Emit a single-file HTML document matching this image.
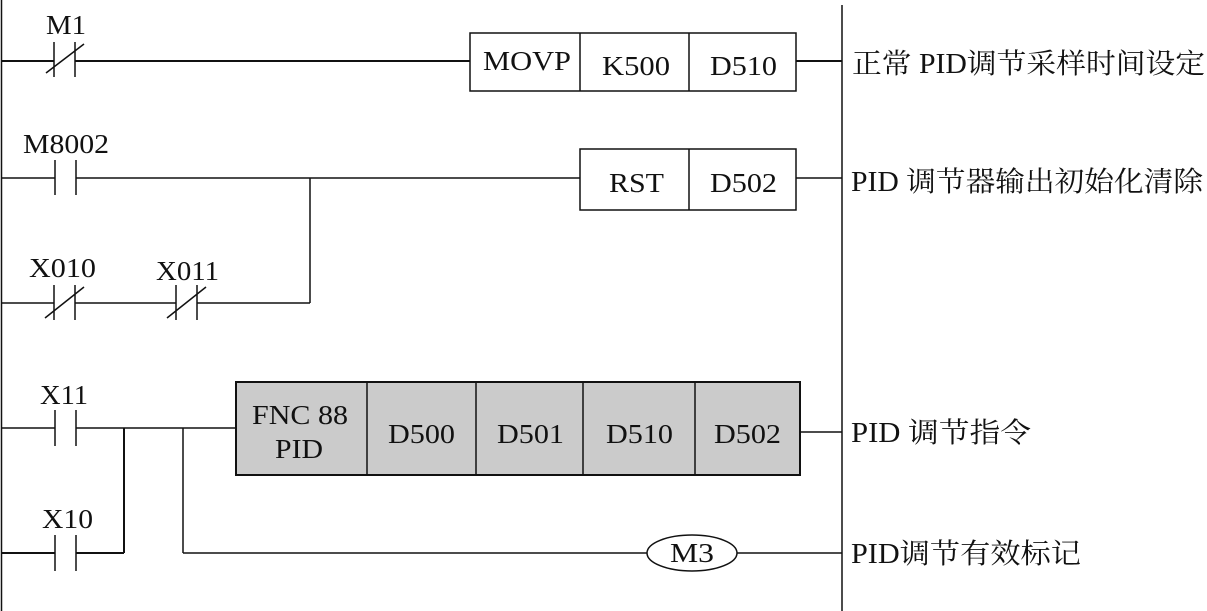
<!DOCTYPE html>
<html><head><meta charset="utf-8"><style>
html,body{margin:0;padding:0;background:#fff;}
svg{display:block;}
text{font-family:"Liberation Serif","Noto Serif CJK SC",serif;fill:#111;}
.cn{font-family:"Liberation Serif","Noto Serif CJK SC","Noto Sans CJK SC",serif;}
</style></head><body>
<svg width="1207" height="611" viewBox="0 0 1207 611" xmlns="http://www.w3.org/2000/svg">
<g stroke="#111" stroke-width="1.5" fill="none">
<line x1="1.5" y1="0" x2="1.5" y2="611"/>
<line x1="842" y1="5" x2="842" y2="611"/>
<line x1="1" y1="61" x2="54" y2="61" stroke-width="2"/>
<line x1="54" y1="42" x2="54" y2="77"/><line x1="75" y1="42" x2="75" y2="77"/>
<line x1="46" y1="73" x2="84" y2="44"/>
<line x1="75" y1="61" x2="470" y2="61" stroke-width="2"/>
<rect x="470" y="33" width="326" height="58"/>
<line x1="580" y1="33" x2="580" y2="91"/><line x1="689" y1="33" x2="689" y2="91"/>
<line x1="796" y1="61" x2="842" y2="61" stroke-width="2"/>
<line x1="1" y1="178" x2="55" y2="178"/>
<line x1="55" y1="160" x2="55" y2="195"/><line x1="76" y1="160" x2="76" y2="195"/>
<line x1="76" y1="178" x2="580" y2="178"/>
<line x1="310" y1="178" x2="310" y2="303"/>
<rect x="580" y="149" width="216" height="61"/>
<line x1="689" y1="149" x2="689" y2="210"/>
<line x1="796" y1="178" x2="842" y2="178"/>
<line x1="1" y1="303" x2="54" y2="303"/>
<line x1="54" y1="285" x2="54" y2="320"/><line x1="75" y1="285" x2="75" y2="320"/>
<line x1="45" y1="318" x2="84" y2="287"/>
<line x1="75" y1="303" x2="176" y2="303"/>
<line x1="176" y1="285" x2="176" y2="320"/><line x1="197" y1="285" x2="197" y2="320"/>
<line x1="167" y1="318" x2="206" y2="287"/>
<line x1="197" y1="303" x2="310" y2="303"/>
<line x1="1" y1="428" x2="55" y2="428"/>
<line x1="55" y1="410" x2="55" y2="446"/><line x1="76" y1="410" x2="76" y2="446"/>
<line x1="76" y1="428" x2="236" y2="428"/>
<line x1="124" y1="428" x2="124" y2="553" stroke-width="2"/>
<line x1="183" y1="428" x2="183" y2="553"/>
<rect x="236" y="382" width="564" height="93" fill="#cbcbcb" stroke-width="2"/>
<line x1="367" y1="382" x2="367" y2="475"/><line x1="476" y1="382" x2="476" y2="475"/>
<line x1="583" y1="382" x2="583" y2="475"/><line x1="695" y1="382" x2="695" y2="475"/>
<line x1="800" y1="432" x2="842" y2="432"/>
<line x1="1" y1="553" x2="55" y2="553" stroke-width="2"/>
<line x1="55" y1="535" x2="55" y2="571"/><line x1="76" y1="535" x2="76" y2="571"/>
<line x1="76" y1="553" x2="124" y2="553" stroke-width="2"/>
<line x1="183" y1="553" x2="647" y2="553"/>
<ellipse cx="692" cy="553" rx="45" ry="18"/>
<line x1="737" y1="553" x2="842" y2="553"/>
</g>
<g font-size="27">
<text x="46" y="34" textLength="40" lengthAdjust="spacingAndGlyphs">M1</text>
<text x="23" y="153" textLength="86" lengthAdjust="spacingAndGlyphs">M8002</text>
<text x="29" y="277" textLength="67" lengthAdjust="spacingAndGlyphs">X010</text>
<text x="156" y="280" textLength="63" lengthAdjust="spacingAndGlyphs">X011</text>
<text x="40" y="404" textLength="48" lengthAdjust="spacingAndGlyphs">X11</text>
<text x="42" y="528" textLength="51" lengthAdjust="spacingAndGlyphs">X10</text>
<text x="483" y="70" textLength="88" lengthAdjust="spacingAndGlyphs">MOVP</text>
<text x="602" y="75" textLength="68" lengthAdjust="spacingAndGlyphs">K500</text>
<text x="710" y="75" textLength="67" lengthAdjust="spacingAndGlyphs">D510</text>
<text x="609" y="192" textLength="55" lengthAdjust="spacingAndGlyphs">RST</text>
<text x="710" y="192" textLength="67" lengthAdjust="spacingAndGlyphs">D502</text>
<text x="252" y="424" textLength="96" lengthAdjust="spacingAndGlyphs">FNC 88</text>
<text x="275" y="458" textLength="48" lengthAdjust="spacingAndGlyphs">PID</text>
<text x="388" y="443" textLength="67" lengthAdjust="spacingAndGlyphs">D500</text>
<text x="497" y="443" textLength="67" lengthAdjust="spacingAndGlyphs">D501</text>
<text x="606" y="443" textLength="67" lengthAdjust="spacingAndGlyphs">D510</text>
<text x="714" y="443" textLength="67" lengthAdjust="spacingAndGlyphs">D502</text>
<text x="670" y="562" textLength="44" lengthAdjust="spacingAndGlyphs">M3</text>
</g>
<g font-size="28" class="cn">
<text x="852" y="73" class="cn" textLength="353" lengthAdjust="spacingAndGlyphs">正常 PID调节采样时间设定</text>
<text x="851" y="191" class="cn" textLength="352" lengthAdjust="spacingAndGlyphs">PID 调节器输出初始化清除</text>
<text x="851" y="442" class="cn" textLength="180" lengthAdjust="spacingAndGlyphs">PID  调节指令</text>
<text x="851" y="563" class="cn" textLength="230" lengthAdjust="spacingAndGlyphs">PID调节有效标记</text>
</g>
</svg>
</body></html>
